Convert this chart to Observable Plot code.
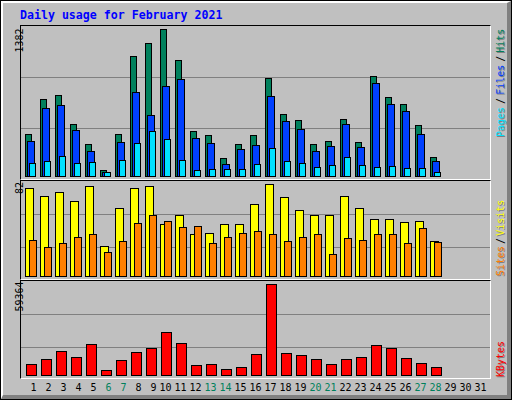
<!DOCTYPE html>
<html><head><meta charset="utf-8">
<script src="https://cdn.jsdelivr.net/npm/d3@7"></script>
<script src="https://cdn.jsdelivr.net/npm/@observablehq/plot@0.6"></script>
<style>
html,body{margin:0;padding:0;background:#c0c0c0;}
#chart{position:relative;width:512px;height:400px;background:#c0c0c0;overflow:hidden;font-family:"DejaVu Sans Mono",monospace;}
#chart svg{position:absolute;left:0;top:0;overflow:visible;background:transparent;}
.abs{position:absolute;box-sizing:border-box;}
#frame{left:0;top:0;width:512px;height:400px;border:1px solid #000;}
#bevel{left:1px;top:1px;width:510px;height:398px;border-style:solid;border-width:2px 4px 4px 2px;border-color:#fff #808080 #808080 #fff;}
.panel{left:20px;width:471px;border-style:solid;border-width:1px;border-color:#000 #fff #fff #000;}
#title{left:20px;top:9px;font:bold 11.6px "DejaVu Sans Mono",monospace;line-height:13px;color:#0000ff;white-space:nowrap;}
.leg{position:absolute;left:496px;font:10px "DejaVu Sans Mono",monospace;line-height:10px;height:10px;white-space:nowrap;transform-origin:0 0;transform:rotate(-90deg);text-shadow:-1px 1px 0 #808080;}
</style>
</head>
<body>
<div id="chart">
  <div class="abs" id="frame"></div>
  <div class="abs" id="bevel"></div>
  <div class="abs panel" style="top:25px;height:155px"></div>
  <div class="abs panel" style="top:180px;height:100px"></div>
  <div class="abs panel" style="top:280px;height:99px"></div>
</div>
<script>
// ---- data ----
const title = "Daily usage for February 2021";
const dayLabels = ["1","2","3","4","5","6","7","8","9","10","11","12","13","14","15","16","17","18","19","20","21","22","23","24","25","26","27","28","29","30","31"];
const weekendDays = [6,7,13,14,20,21,27,28];
const hits   = [392,721,758,486,298,56,392,1125,1247,1382,1088,420,383,166,298,383,918,580,524,298,326,533,317,937,740,674,477,176];
const files  = [326,636,664,429,232,40,317,787,570,843,909,354,307,110,251,288,749,514,439,232,279,486,270,871,674,608,392,138];
const pages  = [119,138,185,119,129,38,148,307,420,345,148,54,63,63,63,110,260,138,119,82,101,176,101,82,91,72,72,35];
const visits = [78,71,75,67,80,27,61,78,80,46,54,37,38,46,46,64,82,70,59,54,54,71,61,51,51,48,49,31];
const sites  = [32,26,29,35,37,21,31,47,54,49,44,45,29,35,38,40,37,31,35,37,20,34,32,37,37,29,43,30];
const kbytes = [6904,10130,15938,11421,20455,3033,9485,15293,17874,28198,21100,6259,6904,3678,4969,14002,59364,14647,13357,10130,6904,10130,11421,19809,17874,10776,7550,4969];
const maxHits = 1382, maxVisits = 82, maxKbytes = 59364;
const legend1 = [["Pages","#00e0ff"],["/","#000"],["Files","#0040ff"],["/","#000"],["Hits","#00805c"]];
const legend2 = [["Sites","#ff8000"],["/","#000"],["Visits","#ffff00"]];
const legend3 = [["KBytes","#ff0000"]];

// ---- colours ----
const C = {hits:"#00805c", files:"#0040ff", pages:"#00e0ff", visits:"#ffff00", sites:"#ff8000", kbytes:"#ff0000", grid:"#808080"};

const days = dayLabels.map(Number);
const rows = hits.map((h, i) => ({day: i + 1, hits: h, files: files[i], pages: pages[i], visits: visits[i], sites: sites[i], kbytes: kbytes[i]}));
const chart = document.getElementById("chart");
const font = {fontFamily: "DejaVu Sans Mono", fontSize: "10px", background: "transparent", overflow: "visible"};

function gridPlot(range) {
  return Plot.plot({
    width: 512, height: 400, marginLeft: 21, marginRight: 22, marginTop: 0, marginBottom: 0,
    style: font,
    x: {axis: null, domain: [0, 1]},
    y: {axis: null, domain: [0, 3], range},
    marks: [Plot.ruleY([1, 2], {stroke: C.grid, strokeWidth: 1, shapeRendering: "crispEdges"})]
  });
}

function barPlot({top, bottom, yRange, max, label, labelDy, marks}) {
  return Plot.plot({
    width: 512, height: 400, marginLeft: 21, marginRight: 22, marginTop: top, marginBottom: 400 - bottom,
    style: font,
    x: {type: "band", domain: days, range: [25, 490], padding: 0, axis: null},
    y: {domain: [0, max], range: yRange, axis: null},
    color: {type: "identity"},
    marks: [
      ...marks,
      Plot.text([label], {frameAnchor: "top-left", text: d => d, rotate: -90, textAnchor: "end",
        dx: -5.5, dy: labelDy, fill: "black", fontSize: 10, fontFamily: "DejaVu Sans Mono"})
    ]
  });
}

const bar = (key, color, l, r) => Plot.barY(rows, {x: "day", y: key, fill: color, stroke: "black", strokeWidth: 1,
  insetLeft: l, insetRight: r, shapeRendering: "crispEdges"});

chart.append(gridPlot([178.5, 25.5]));
chart.append(gridPlot([279.5, 180.5]));
chart.append(gridPlot([379.5, 280.5]));

chart.append(barPlot({top: 25, bottom: 179, yRange: [176.5, 29.5], max: maxHits, label: String(maxHits), labelDy: 3,
  marks: [bar("hits", C.hits, 0.5, 8.5), bar("files", C.files, 2.5, 5.5), bar("pages", C.pages, 4.5, 4.5)]}));

chart.append(barPlot({top: 180, bottom: 279, yRange: [276.5, 184.5], max: maxVisits, label: String(maxVisits), labelDy: 1.5,
  marks: [bar("visits", C.visits, 0.5, 6.5), bar("sites", C.sites, 4.5, 3.5)]}));

chart.append(barPlot({top: 280, bottom: 379, yRange: [375.5, 284.5], max: maxKbytes, label: String(maxKbytes), labelDy: 1,
  marks: [
    bar("kbytes", C.kbytes, 1.5, 3.5),
    Plot.text(days, {x: d => d, text: d => String(d), frameAnchor: "bottom", textAnchor: "end", dx: 3.5, dy: 11,
      fill: d => weekendDays.includes(d) ? C.hits : "#000", fontSize: 10, fontFamily: "DejaVu Sans Mono"})
  ]}));

// title
const t = document.createElement("div");
t.className = "abs"; t.id = "title"; t.textContent = title;
chart.append(t);

// rotated legends
function legend(parts, bottomY, gap) {
  const d = document.createElement("div");
  d.className = "leg";
  d.style.top = bottomY + "px";
  parts.forEach(([txt, col]) => {
    const s = document.createElement("span");
    s.textContent = txt;
    s.style.color = col;
    if (txt === "/") { s.style.margin = `0 ${gap}px`; s.style.textShadow = "none"; }
    d.append(s);
  });
  chart.append(d);
}
legend(legend1, 137, 3);
legend(legend2, 276, 2);
legend(legend3, 377, 0);
</script>
</body></html>
